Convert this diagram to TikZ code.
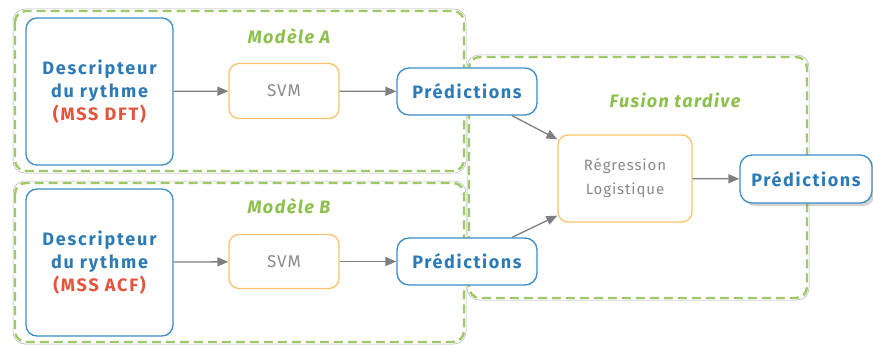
\documentclass[tikz,border=0pt]{standalone}
\usepackage{fontspec}
\setmainfont{Fira Sans}
\usetikzlibrary{arrows.meta,shadows}
\definecolor{cblue}{HTML}{3A8DC6}
\definecolor{tblue}{HTML}{2C7BB6}
\definecolor{cred}{HTML}{E2543C}
\definecolor{corange}{HTML}{F7C46C}
\definecolor{cgreen}{HTML}{8CC04B}
\definecolor{carrow}{HTML}{7F7F7F}
\definecolor{ctext}{HTML}{8A8A8A}
\tikzset{
  descbox/.style={draw=cblue, line width=1.3pt, rounded corners=11pt, fill=white,
    minimum width=147pt, minimum height=147pt, align=center, text=tblue,
    font=\fontsize{18}{23}\selectfont\bfseries\addfontfeatures{LetterSpace=10}},
  predbox/.style={draw=cblue, line width=1.3pt, rounded corners=12pt, fill=white,
    minimum width=140pt, minimum height=47pt, text=tblue, inner xsep=2pt,
    font=\fontsize{18}{20}\selectfont\bfseries\addfontfeatures{LetterSpace=9}},
  algbox/.style={draw=corange, line width=1.3pt, rounded corners=10pt, fill=white,
    align=center, text=ctext, font=\fontsize{17}{20}\selectfont\addfontfeatures{LetterSpace=7}},
  grouptitle/.style={text=cgreen, font=\fontsize{18}{20}\selectfont\bfseries\itshape\addfontfeatures{LetterSpace=8}},
  groupgray/.style={draw=gray!60, line width=0.5pt, rounded corners=12pt},
  groupgreen/.style={draw=cgreen!85, line width=2.4pt, dash pattern=on 9pt off 5pt, rounded corners=11pt},
  flow/.style={draw=carrow, line width=1.3pt, -{Triangle[length=11pt,width=9pt]}},
}
\begin{document}
\begin{tikzpicture}[x=1pt,y=-1pt]
\useasboundingbox (0,0) rectangle (873,345);
% fusion group
\draw[groupgray] (467,55) rectangle (809,300);
\draw[groupgreen] (469,57) rectangle (807,298);
% model A group
\draw[groupgray] (13,9) rectangle (466,173);
\draw[groupgreen] (15,11) rectangle (464,171);
% model B group
\draw[groupgray] (13,181) rectangle (466,344);
\draw[groupgreen] (15,183) rectangle (464,342);

\node[grouptitle] (titleA) at (289,36) {Modèle A};
\node[grouptitle] (titleB) at (289,206) {Modèle B};
\node[grouptitle] (titleF) at (675,100) {Fusion tardive};

\node[descbox] (descA) at (99.5,91.5) {Descripteur\\du rythme\\\textcolor{cred}{(MSS DFT)}};
\node[descbox] (descB) at (99.5,262.5) {Descripteur\\du rythme\\\textcolor{cred}{(MSS ACF)}};
\node[algbox, minimum width=110pt, minimum height=55pt] (svmA) at (284,91) {SVM};
\node[algbox, minimum width=110pt, minimum height=54pt] (svmB) at (284,261.5) {SVM};
\node[predbox] (predA) at (467,91.5) {Prédictions};
\node[predbox] (predB) at (467,261.5) {Prédictions};
\node[algbox, minimum width=134pt, minimum height=87pt, font=\fontsize{15}{24}\selectfont\addfontfeatures{LetterSpace=6}] (reg) at (625,178.5) {Régression\\Logistique};
\node[predbox, minimum width=132pt, minimum height=48pt,
  drop shadow={shadow xshift=3pt, shadow yshift=-3pt, opacity=0.35}] (predF) at (806,179) {Prédictions};

\draw[flow] (descA) -- (svmA);
\draw[flow] (svmA) -- (predA);
\draw[flow] (descB) -- (svmB);
\draw[flow] (svmB) -- (predB);
\draw[flow] ([xshift=45pt]predA.south) -- ([yshift=-5pt]reg.north west);
\draw[flow] ([xshift=45pt]predB.north) -- ([yshift=7pt]reg.south west);
\draw[flow] (reg) -- (predF);
\end{tikzpicture}
\end{document}
